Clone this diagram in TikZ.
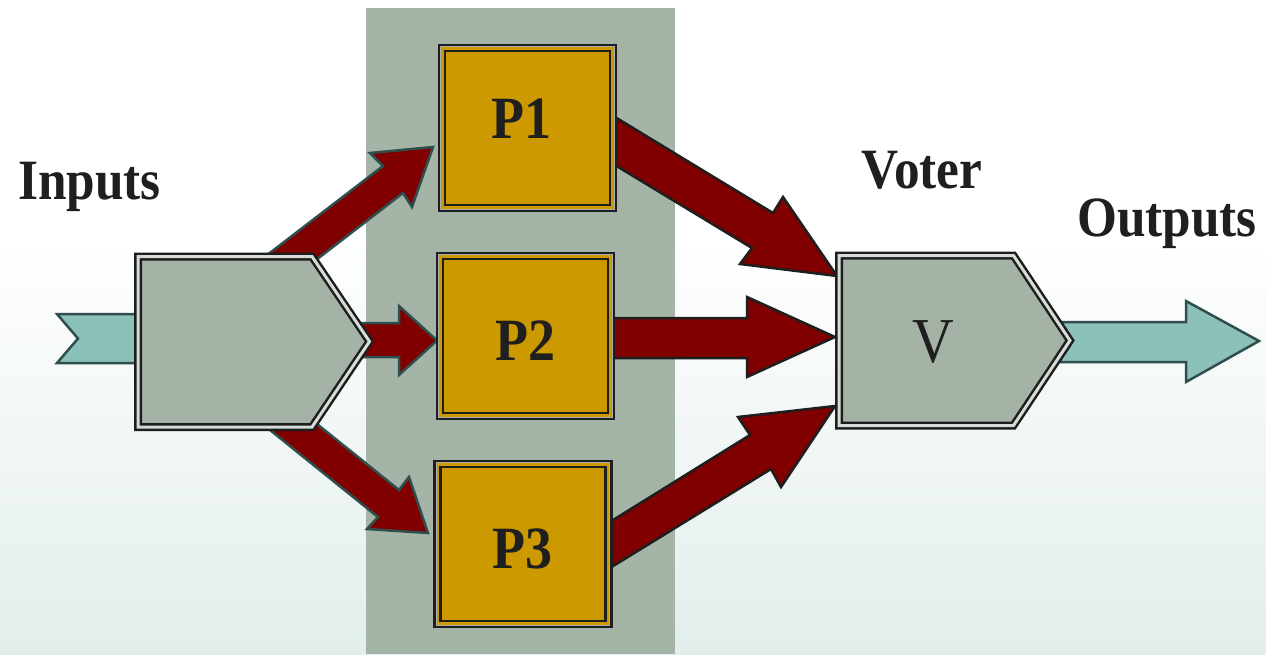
\documentclass[tikz,border=0pt]{standalone}
\usepackage{fontspec}
\setmainfont{Liberation Serif}[FakeStretch=0.9]
\definecolor{bgbot}{HTML}{E2EEEB}
\definecolor{colgray}{HTML}{A4B4A6}
\definecolor{pentgray}{HTML}{A4B3A6}
\definecolor{gapgray}{HTML}{D6DDD6}
\definecolor{gold}{HTML}{CC9900}
\definecolor{darkred}{HTML}{800000}
\definecolor{tealfill}{HTML}{8CC1B9}
\definecolor{tealdark}{HTML}{2F4F4F}
\definecolor{nearblack}{HTML}{1E1E1E}
\definecolor{textc}{HTML}{1F1F1F}
\tikzset{
  redin/.style={fill=darkred, draw=tealdark, line width=2.5pt, line join=miter},
  redout/.style={fill=darkred, draw=nearblack, line width=2.5pt, line join=miter},
  tealarrow/.style={fill=tealfill, draw=tealdark, line width=2.5pt, line join=miter},
  pent/.style={fill=pentgray, draw=nearblack, line width=2.5pt, double=gapgray, double distance=3pt, line join=miter},
  pbox/.style={rectangle, fill=gold, draw=nearblack, line width=2.7pt, double=gold, double distance=3.2pt, minimum width=171pt, minimum height=160pt, inner sep=0pt, outer sep=0pt},
  plabel/.style={font=\fontsize{60}{60}\selectfont\bfseries, text=textc, anchor=base, inner sep=0pt},
  biglabel/.style={font=\fontsize{57}{57}\selectfont\bfseries, text=textc, anchor=base, inner sep=0pt}
}
\begin{document}
\begin{tikzpicture}[x=1pt,y=-1pt]
\useasboundingbox (0,0) rectangle (1266,654);
% background
\fill[white] (0,0) rectangle (1266,654);
\shade[top color=white, bottom color=bgbot] (0,240) rectangle (1266,654);
\fill[colgray] (366,8) rectangle (675,654);
% teal arrows
\draw[tealarrow] (57,314) -- (145,314) -- (145,363) -- (57,363) -- (78,338.5) -- cycle;
\draw[tealarrow] (1060,322) -- (1186,322) -- (1186,301) -- (1259,341) -- (1186,382) -- (1186,362) -- (1060,362) -- cycle;
% red arrows from input
\draw[redin] (232,282) -- (383,166) -- (370,153) -- (433,147) -- (412,207) -- (403,193) -- (264,300) -- cycle;
\draw[redin] (340,323) -- (399,323) -- (399,306) -- (437,340.5) -- (399,375) -- (399,357) -- (340,357) -- cycle;
\draw[redin] (266,383) -- (399,490) -- (409,477) -- (428,533) -- (367,529) -- (378,517) -- (234,401) -- cycle;
% red arrows to voter
\draw[redout] (605,111) -- (773,213) -- (783,197) -- (837,276) -- (740,264) -- (752,248) -- (605,159) -- cycle;
\draw[redout] (605,318) -- (747,318) -- (747,297) -- (835,337) -- (747,377) -- (747,358) -- (605,358) -- cycle;
\draw[redout] (605,525) -- (750,435) -- (738,417) -- (835,406) -- (781,487) -- (771,469) -- (605,571) -- cycle;
% pentagons
\draw[pent] (138,256.5) coordinate (in) -- (312,256.5) -- (369.5,341.5) -- (312,427) -- (138,427) -- cycle;
\draw[pent] (839,255.5) coordinate (vo) -- (1013.5,255.5) -- (1070,340.5) -- (1013.5,425.5) -- (839,425.5) -- cycle;
% processor boxes
\node[pbox] (p1) at (527.5,128) {};
\node[pbox] (p2) at (525.5,336) {};
\node[pbox] (p3) at (523,544) {};
\foreach \b in {p1,p2,p3}{
  \draw[gapgray!50!gray, line width=0.8pt] ([shift={(-1.2pt,1.2pt)}]\b.north west) rectangle ([shift={(1.2pt,-1.2pt)}]\b.south east);
}
% labels
\node[plabel] (t1) at (521,138) {P1};
\node[plabel] (t2) at (525,360) {P2};
\node[plabel] (t3) at (522,568) {P3};
\node[font=\fontsize{64}{64}\selectfont, text=textc, anchor=base, inner sep=0pt] (tv) at (933,362) {V};
\node[biglabel] (tin) at (89.5,199) {Inputs};
\node[biglabel] (tvo) at (922,188) {Voter};
\node[biglabel] (tout) at (1167,236) {Outputs};
\end{tikzpicture}
\end{document}
